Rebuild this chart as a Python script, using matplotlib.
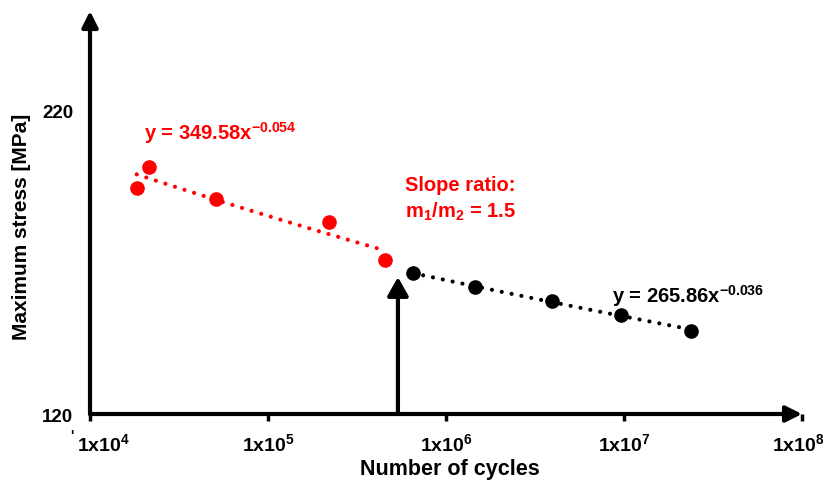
import numpy as np
import matplotlib.pyplot as plt
from matplotlib.ticker import NullLocator
from matplotlib.transforms import ScaledTranslation

plt.rcParams['font.family'] = ['Liberation Sans', 'DejaVu Sans']
plt.rcParams['font.weight'] = 'bold'
plt.rcParams['axes.labelweight'] = 'bold'
plt.rcParams['mathtext.default'] = 'regular'

# data
red_cycles = [1.83e4, 2.15e4, 5.08e4, 2.21e5, 4.54e5]
red_stress = [194.5, 201.4, 191.0, 183.3, 170.8]
black_cycles = [6.55e5, 1.46e6, 3.96e6, 9.6e6, 2.39e7]
black_stress = [166.4, 161.8, 157.4, 152.7, 147.5]

xticks = [1e4, 1e5, 1e6, 1e7, 1e8]
xtick_labels = ['1x10$^{4}$', '1x10$^{5}$', '1x10$^{6}$', '1x10$^{7}$', '1x10$^{8}$']
yticks = [120, 220]

split_cycles = 5.37e5
split_top = 165.2

red_eq = 'y = 349.58x$^{-0.054}$'
black_eq = 'y = 265.86x$^{-0.036}$'


def power_fit(xs, ys):
    a, b = np.polyfit(np.log(xs), np.log(ys), 1)
    xx = np.logspace(np.log10(min(xs)), np.log10(max(xs)), 60)
    return xx, np.exp(b) * xx ** a


fig = plt.figure(figsize=(8.26, 4.85), dpi=100)
ax = fig.add_axes([90 / 826, 70 / 485, 712 / 826, 403 / 485])
ax.set_xscale('log')
ax.set_xlim(1e4, 1e8)
ax.set_ylim(120, 253)
for s in ax.spines.values():
    s.set_visible(False)

dots = (0, (0.01, 2.4))
for xs, ys, c in [(red_cycles, red_stress, 'red'), (black_cycles, black_stress, 'black')]:
    fx, fy = power_fit(xs, ys)
    ax.plot(fx, fy, color=c, lw=3.0, linestyle=dots, dash_capstyle='round', zorder=2)
    ax.plot(xs, ys, 'o', color=c, ms=9.5, zorder=3, clip_on=False)

# axis arrows
ax.annotate('', xy=(1, 0), xytext=(0, 0), xycoords='axes fraction',
            arrowprops=dict(arrowstyle='-|>,head_length=0.8,head_width=0.4', lw=3,
                            color='black', shrinkA=0, shrinkB=0, mutation_scale=12))
ax.annotate('', xy=(0, 1), xytext=(0, 0), xycoords='axes fraction',
            arrowprops=dict(arrowstyle='-|>,head_length=0.8,head_width=0.4', lw=3,
                            color='black', shrinkA=0, shrinkB=0, mutation_scale=12))
ax.annotate('', xy=(split_cycles, split_top), xytext=(split_cycles, 120),
            arrowprops=dict(arrowstyle='-|>,head_length=0.8,head_width=0.45', lw=3,
                            color='black', shrinkA=0, shrinkB=0, mutation_scale=14))

ax.set_xticks(xticks)
ax.set_xticklabels(xtick_labels)
ax.xaxis.set_minor_locator(NullLocator())
ax.tick_params(axis='x', direction='out', length=5, width=2.5, pad=8, labelsize=14)
labs = ax.get_xticklabels()
labs[0].set_transform(labs[0].get_transform() + ScaledTranslation(14 / 100, 0, fig.dpi_scale_trans))
labs[-1].set_transform(labs[-1].get_transform() + ScaledTranslation(-4 / 100, 0, fig.dpi_scale_trans))

ax.set_yticks(yticks)
ax.tick_params(axis='y', length=0, pad=12, labelsize=13.5)

ax.set_xlabel('Number of cycles', fontsize=15.5)
ax.xaxis.set_label_coords((450 - 90) / 712, -(470 - 415) / 403)
ax.set_ylabel('Maximum stress [MPa]', fontsize=15)
ax.yaxis.set_label_coords(-(90 - 22) / 712, (415 - 227) / 403)
ax.xaxis.label.set_va('center')
ax.yaxis.label.set_va('center')

ax.text(-18 / 712, -(436 - 415) / 403, "'", transform=ax.transAxes, fontsize=10,
        ha='center', va='center')

ax.text(2.01e4, 213.1, red_eq, color='red', fontsize=14.5, ha='left', va='center')
ax.text(5.89e5, 195.9, 'Slope ratio:', color='red', fontsize=14.5, ha='left', va='center')
ax.text(5.89e5, 187.0, 'm$_{1}$/m$_{2}$ = 1.5', color='red', fontsize=14.5, ha='left', va='center')
ax.text(8.57e6, 159.3, black_eq, color='black', fontsize=14.5, ha='left', va='center')

fig.savefig('out.png', dpi=100)
